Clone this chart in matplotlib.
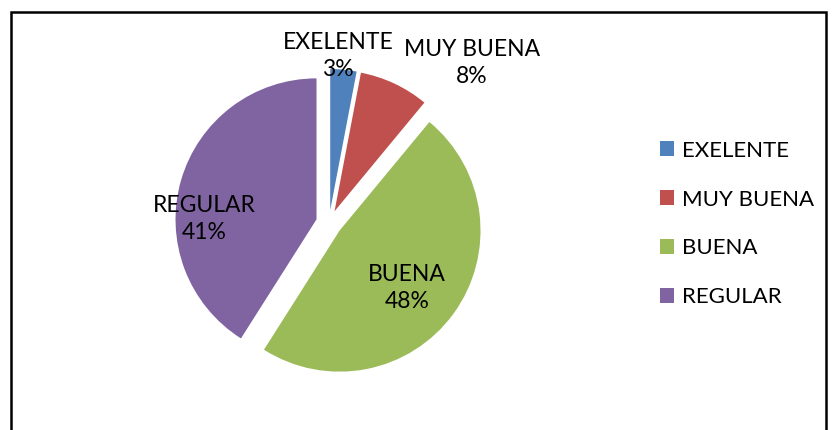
import matplotlib
matplotlib.use("Agg")
import matplotlib.pyplot as plt
from matplotlib.patches import Rectangle, Patch

# Data
categorias = ["EXELENTE", "MUY BUENA", "BUENA", "REGULAR"]
porcentajes = [3, 8, 48, 41]
colores = ["#4F81BD", "#C0504D", "#9BBB59", "#8064A2"]

plt.rcParams['font.family'] = ['Lato', 'DejaVu Sans']

W, H = 833, 430
fig = plt.figure(figsize=(W / 100, H / 100), dpi=100)
ax = fig.add_axes([0, 0, 1, 1])

# outer chart frame (runs past the bottom of the picture)
fig.patches.append(Rectangle((11 / W, -0.05), (826 - 11) / W, (H - 12) / H + 0.05,
                             transform=fig.transFigure, fill=False,
                             edgecolor='black', linewidth=1.8))

R = 141
ax.pie(porcentajes, colors=colores, startangle=90, counterclock=False,
       radius=R, center=(329, H - 223), explode=[13] * 4,
       wedgeprops=dict(linewidth=0), frame=True)
ax.set_xlim(0, W)
ax.set_ylim(0, H)
ax.axis('off')

# data labels placed like the original
pos_labels = [(338, 56), (472, 63), (407, 288), (204, 219)]
for cat, pct, (x, y) in zip(categorias, porcentajes, pos_labels):
    ax.text(x, H - y, "%s\n%d%%" % (cat, pct), ha='center', va='center',
            fontsize=16.5, linespacing=1.4, color='black')

handles = [Patch(facecolor=c, edgecolor='none') for c in colores]
fig.legend(handles, categorias, loc='center left', bbox_to_anchor=(651 / W, 1 - 224 / H),
           frameon=False, fontsize=16, handlelength=0.65, handleheight=0.65,
           handletextpad=0.35, labelspacing=1.3, borderaxespad=0)

fig.savefig("out.png", dpi=100)
